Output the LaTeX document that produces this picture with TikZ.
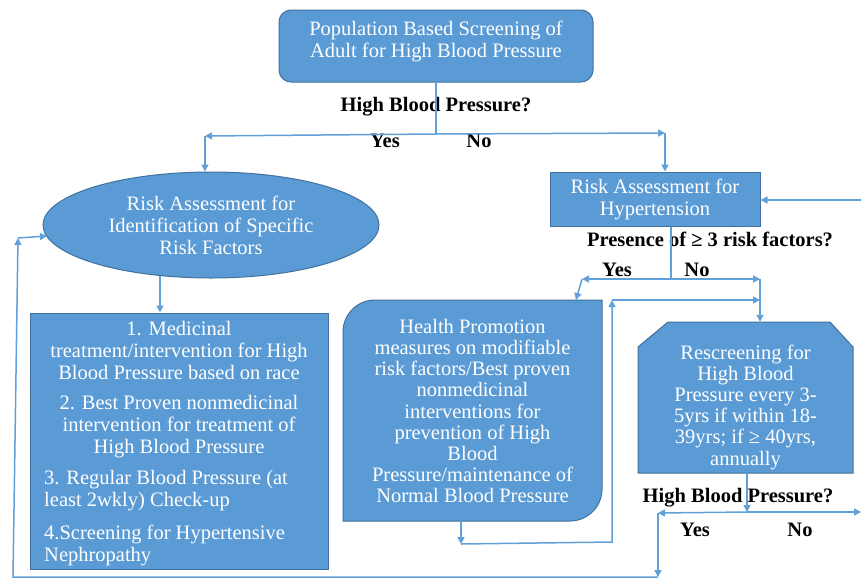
\documentclass[tikz,border=0pt]{standalone}
\usepackage{fontspec}
\setmainfont{Liberation Serif}
\usetikzlibrary{arrows.meta,shapes.geometric}
\definecolor{boxfill}{RGB}{91,155,213}
\definecolor{boxline}{RGB}{65,113,156}
\definecolor{conn}{RGB}{98,160,218}
\begin{document}
\begin{tikzpicture}[x=1pt,y=-1pt,
  every node/.style={font=\fontsize{20.5}{22}\selectfont},
  shp/.style={fill=boxfill,draw=boxline,line width=1pt},
  wt/.style={text=white,align=center,inner sep=0pt},
  tight/.style={font=\fontsize{20.5}{21.2}\selectfont},
  lbl/.style={font=\fontsize{20.5}{22}\selectfont\bfseries,inner sep=0pt},
  arr/.style={draw=conn,line width=1.5pt,-{Triangle[length=7pt,width=7pt]}},
  ln/.style={draw=conn,line width=1.5pt},
]
\useasboundingbox[fill=white] (0,0) rectangle (861,579);

% ---- shapes ----
\node[shp,rounded corners=12pt,minimum width=314pt,minimum height=72pt,inner sep=0pt] (top) at (436,46) {};
\node[wt] (toptxt) at (436,41) {Population Based Screening of\\Adult for High Blood Pressure};

\node[shp,ellipse,minimum width=336pt,minimum height=106pt,inner sep=0pt,text=white,align=center] (ell) at (211,225) {Risk Assessment for\\Identification of Specific\\Risk Factors};

\node[shp,minimum width=210pt,minimum height=54pt,inner sep=0pt,text=white,align=center] (hyp) at (655,199) {Risk Assessment for\\Hypertension};

\node[shp,minimum width=298pt,minimum height=256pt,inner sep=0pt] (treat) at (179,441) {};
\node[wt] (t1) at (179,350) {1. Medicinal\\treatment/intervention for High\\Blood Pressure based on race};
\node[wt] (t2) at (179,427) {2. Best Proven nonmedicinal\\intervention for treatment of\\High Blood Pressure};
\node[wt,align=left,anchor=west] (t3) at (44,491) {3. Regular Blood Pressure (at\\least 2wkly) Check-up};
\node[wt,align=left,anchor=west] (t4) at (44,545) {4.Screening for Hypertensive\\Nephropathy};

\path[shp] (343,332) .. controls (343,314.3) and (357.3,300) .. (375,300) -- (602,300) -- (602,489) .. controls (602,506.7) and (587.7,521) .. (570,521) -- (343,521) -- cycle;
\node[wt,tight,minimum width=259pt,minimum height=221pt] (hp) at (472.5,411) {Health Promotion\\measures on modifiable\\risk factors/Best proven\\nonmedicinal\\interventions for\\prevention of High\\Blood\\Pressure/maintenance of\\Normal Blood Pressure};

\path[shp] (638,473) -- (638,347) -- (668,322) -- (830,322) -- (853,347) -- (853,473) -- cycle;
\node[minimum width=215pt,minimum height=151pt,inner sep=0pt] (rs) at (745.5,397.5) {};
\node[wt,tight] (rstxt) at (745.5,407) {Rescreening for\\High Blood\\Pressure every 3-\\5yrs if within 18-\\39yrs; if ≥ 40yrs,\\annually};

% ---- labels ----
\node[lbl] (q1) at (436,107) {High Blood Pressure?};
\node[lbl] (y1) at (385,141) {Yes};
\node[lbl] (n1) at (479,141) {No};
\node[lbl] (q2) at (710,239) {Presence of ≥ 3 risk factors?};
\node[lbl] (y2) at (617,270) {Yes};
\node[lbl] (n2) at (697,270) {No};
\node[lbl] (q3) at (738,498) {High Blood Pressure?};
\node[lbl] (y3) at (695,530) {Yes};
\node[lbl] (n3) at (800,530) {No};

% ---- junction coordinates ----
\coordinate (j1) at (436,134);
\coordinate (jl) at (205,136);
\coordinate (jr) at (665,133);
\coordinate (rin) at (861,200);
\coordinate (j2) at (671,279);
\coordinate (j2l) at (582,279);
\coordinate (j2r) at (760,279);
\coordinate (hpin) at (576,300);
\coordinate (c1) at (461,544);
\coordinate (c2) at (612,542);
\coordinate (c3) at (612,300);
\coordinate (c4) at (760,300);
\coordinate (j3) at (747,512);
\coordinate (j3l) at (658,513);
\coordinate (j3r) at (861,512);
\coordinate (b1) at (658,577);
\coordinate (b2) at (13,577);
\coordinate (b3) at (18,238);
\coordinate (ellin) at (47,236);
\coordinate (ebot) at (160,276);

% ---- connectors ----
\draw[ln] (top.south) -- (j1);
\draw[arr] (j1) -- (jl);
\draw[arr] (jl) -- (ell.north -| jl);
\draw[arr] (j1) -- (jr);
\draw[arr] (jr) -- (jr |- hyp.north);

\draw[arr] (rin) -- (hyp.east |- rin);
\draw[ln] (hyp.south -| j2) -- (j2);
\draw[arr] (j2) -- (j2l);
\draw[arr] (j2l) -- (hpin);
\draw[arr] (j2) -- (j2r);
\draw[arr] (j2r) -- (j2r |- rs.north);

\draw[arr] (hp.south -| c1) -- (c1);
\draw[arr] (c1) -- (c2) -- (c3);
\draw[arr] (c3) -- (c4);

\draw[arr] (rs.south -| j3) -- (j3);
\draw[arr] (j3) -- (j3l);
\draw[arr] (j3) -- (j3r);
\draw[arr] (j3l) -- (b1);
\draw[arr] (b1) -- (b2) -- (b3);
\draw[arr] (b3) -- (ellin);

\draw[arr] (ebot) -- (ebot |- treat.north);
\end{tikzpicture}
\end{document}
